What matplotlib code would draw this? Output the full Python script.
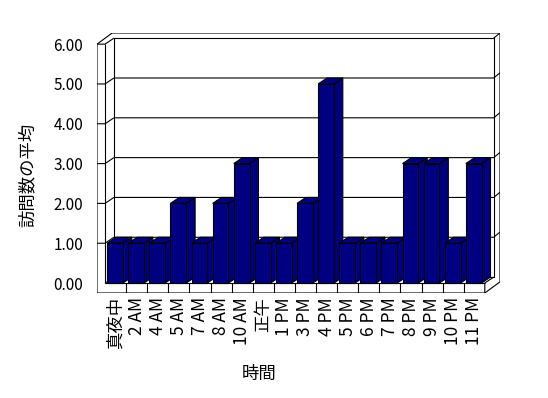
import matplotlib
matplotlib.use("Agg")
import matplotlib.pyplot as plt

plt.rcParams["font.family"] = ["Noto Sans CJK JP", "DejaVu Sans"]

# データ
categories = ["真夜中", "2 AM", "4 AM", "5 AM", "7 AM", "8 AM", "10 AM", "正午",
              "1 PM", "3 PM", "4 PM", "5 PM", "6 PM", "7 PM", "8 PM", "9 PM",
              "10 PM", "11 PM"]
values = [1, 1, 1, 2, 1, 2, 3, 1, 1, 2, 5, 1, 1, 1, 3, 3, 1, 3]
yticks = [0, 1, 2, 3, 4, 5, 6]

BAR = "#000080"
LW = 0.8
# 奥行き (データ単位)
DX, DY = 0.42, 0.15      # 前面 -> 背面
TX, TY = 0.30, 0.13      # 壁の厚み
WALL = 0.38              # 左壁の幅
FLOOR = 0.25             # 床の厚み

n = len(categories)
ymax = yticks[-1]

fig = plt.figure(figsize=(5.48, 3.98), dpi=100)
ax = fig.add_axes([97 / 548, 1 - 293 / 398, 403 / 548, 260 / 398])
ax.set_xlim(-WALL, n + DX + TX)
ax.set_ylim(-FLOOR, ymax + DY + TY)
for s in ax.spines.values():
    s.set_visible(False)
ax.patch.set_visible(False)


def line(xs, ys, z=2):
    ax.plot(xs, ys, color="black", lw=LW, zorder=z, solid_capstyle="butt")


# 外形 (白)
outer_x = [-WALL, -WALL, -WALL + DX + TX, n + DX + TX, n + DX + TX, n]
outer_y = [-FLOOR, ymax, ymax + DY + TY, ymax + DY + TY, -FLOOR + DY + TY, -FLOOR]
ax.fill(outer_x, outer_y, facecolor="white", edgecolor="black", lw=LW, zorder=1)

# 背面
line([DX, n + DX, n + DX, DX, DX], [DY, DY, ymax + DY, ymax + DY, DY])
line([n + DX, n + DX + TX], [ymax + DY, ymax + DY + TY])
# 左壁
line([0, 0], [0, ymax])
line([-WALL, 0, DX], [ymax, ymax, ymax + DY])
# 床
line([0, n], [0, 0])
line([0, DX], [0, DY])
line([n, n, n + DX], [-FLOOR, 0, DY])
for i in range(1, n):
    line([i, i], [-FLOOR, 0])
# 目盛線
for v in yticks[1:-1]:
    line([-WALL, 0, DX], [v, v, v + DY])
    line([DX, n + DX, n + DX + TX], [v + DY, v + DY, v + DY + TY])

# 棒 (左から順に)
w = 0.75
for i, v in enumerate(values):
    x0 = i + 0.1
    z = 10 + 2 * i
    ax.fill([x0 + w, x0 + w + DX, x0 + w + DX, x0 + w], [0, DY, v + DY, v],
            facecolor=BAR, edgecolor="black", lw=LW, zorder=z)
    ax.fill([x0, x0 + w, x0 + w + DX, x0 + DX], [v, v, v + DY, v + DY],
            facecolor=BAR, edgecolor="black", lw=LW, zorder=z)
    ax.bar(x0, v, width=w, align="edge", color=BAR, edgecolor="black",
           lw=LW, zorder=z + 1)

ax.set_yticks(yticks)
ax.set_yticklabels([f"{v:.2f}" for v in yticks], fontsize=11)
ax.set_xticks([i + 0.5 for i in range(n)])
ax.set_xticklabels(categories, rotation=90, fontsize=12.5)
ax.tick_params(axis="y", length=0, pad=10)
ax.tick_params(axis="x", length=0, pad=3)

fig.text(28 / 548, 1 - 175 / 398, "訪問数の平均", rotation=90,
         ha="center", va="center", fontsize=12.5)
fig.text(259 / 548, 1 - 374 / 398, "時間", ha="center", va="center", fontsize=12.5)

fig.savefig("out.png", dpi=100)
